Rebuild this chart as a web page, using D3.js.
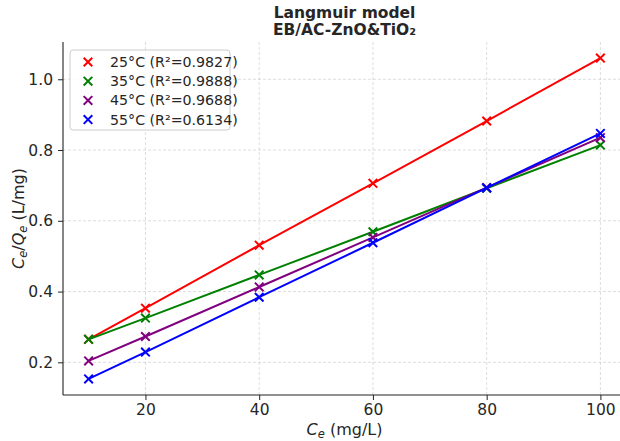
<!DOCTYPE html>
<html>
<head>
<meta charset="utf-8">
<script src="https://cdn.jsdelivr.net/npm/d3@7"></script>
<style>
  body { margin: 0; background: #fff; }
  text { font-family: "DejaVu Sans", sans-serif; }
</style>
</head>
<body>
<div id="chart"></div>
<script>
// data
var ce = [10, 20, 40, 60, 80, 100];
var t25 = [0.265, 0.353, 0.531, 0.706, 0.882, 1.060];
var t35 = [0.265, 0.325, 0.447, 0.569, 0.692, 0.814];
var t45 = [0.204, 0.273, 0.413, 0.553, 0.694, 0.835];
var t55 = [0.153, 0.229, 0.384, 0.538, 0.693, 0.847];
var labels = ["25°C (R²=0.9827)", "35°C (R²=0.9888)", "45°C (R²=0.9688)", "55°C (R²=0.6134)"];
var colors = ["#ff0000", "#008000", "#800080", "#0000ff"];
var xTicks = [20, 40, 60, 80, 100];
var yTicks = [0.2, 0.4, 0.6, 0.8, 1.0];

var series = [t25, t35, t45, t55].map(function(vals, i) {
  return { name: labels[i], color: colors[i], values: vals.map(function(v, j) { return { x: ce[j], y: v }; }) };
});

var svgWidth = 620;
var svgHeight = 441;
var margin = { top: 42, right: -6, bottom: 46, left: 63 };
var width = svgWidth - margin.left - margin.right;
var height = svgHeight - margin.top - margin.bottom;

var svg = d3.select("#chart")
  .append("svg")
  .attr("width", svgWidth)
  .attr("height", svgHeight)
  .style("overflow", "hidden");

var g = svg.append("g")
  .attr("transform", `translate(${margin.left}, ${margin.top})`);

// matplotlib style 5% margins
var xMin = d3.min(ce), xMax = d3.max(ce);
var xPad = (xMax - xMin) * 0.05;
var all = [].concat(t25, t35, t45, t55);
var yMin = d3.min(all), yMax = d3.max(all);
var yPad = (yMax - yMin) * 0.05;

var x = d3.scaleLinear().domain([xMin - xPad, xMax + xPad]).range([0, width]);
var y = d3.scaleLinear().domain([yMin - yPad, yMax + yPad]).range([height, 0]);

// grid
g.append("g").selectAll("line").data(xTicks).enter().append("line")
  .attr("x1", d => x(d)).attr("x2", d => x(d))
  .attr("y1", 0).attr("y2", height)
  .attr("stroke", "#b0b0b0").attr("stroke-opacity", 0.55)
  .attr("stroke-width", 0.8).attr("stroke-dasharray", "3,2");
g.append("g").selectAll("line").data(yTicks).enter().append("line")
  .attr("y1", d => y(d)).attr("y2", d => y(d))
  .attr("x1", 0).attr("x2", width)
  .attr("stroke", "#b0b0b0").attr("stroke-opacity", 0.55)
  .attr("stroke-width", 0.8).attr("stroke-dasharray", "3,2");

// axes
var xAxis = g.append("g")
  .attr("transform", "translate(0," + height + ")")
  .call(d3.axisBottom(x).tickValues(xTicks).tickSize(5).tickPadding(4).tickFormat(d3.format("d")));
var yAxis = g.append("g")
  .call(d3.axisLeft(y).tickValues(yTicks).tickSize(5).tickPadding(5).tickFormat(d3.format(".1f")));

[xAxis, yAxis].forEach(function(a) {
  a.select(".domain").attr("stroke", "#222").attr("stroke-width", 1.1);
  a.selectAll(".tick line").attr("stroke", "#222").attr("stroke-width", 1);
  a.selectAll(".tick text")
    .attr("font-family", "DejaVu Sans, sans-serif")
    .attr("font-size", 15.5)
    .attr("fill", "#262626");
});
// remove end caps of domain lines
xAxis.select(".domain").attr("d", "M0,0H" + width);
yAxis.select(".domain").attr("d", "M0,0V" + height);

// lines and x markers
var line = d3.line().x(d => x(d.x)).y(d => y(d.y));
var ms = 4.3;

series.forEach(function(s) {
  g.append("path")
    .datum(s.values)
    .attr("fill", "none")
    .attr("stroke", s.color)
    .attr("stroke-width", 2)
    .attr("d", line);

  g.selectAll(null)
    .data(s.values)
    .enter()
    .append("path")
    .attr("d", d => `M${x(d.x) - ms},${y(d.y) - ms}L${x(d.x) + ms},${y(d.y) + ms}M${x(d.x) - ms},${y(d.y) + ms}L${x(d.x) + ms},${y(d.y) - ms}`)
    .attr("stroke", s.color)
    .attr("stroke-width", 2)
    .attr("fill", "none");
});

// legend
var legend = g.append("g").attr("transform", "translate(7, 8)");
legend.append("rect")
  .attr("width", 160).attr("height", 80)
  .attr("rx", 3)
  .attr("fill", "#fff").attr("fill-opacity", 0.8)
  .attr("stroke", "#cccccc").attr("stroke-width", 1);

series.forEach(function(s, i) {
  var row = legend.append("g").attr("transform", `translate(0, ${12 + i * 19.2})`);
  row.append("path")
    .attr("d", `M${18 - ms},${-ms}L${18 + ms},${ms}M${18 - ms},${ms}L${18 + ms},${-ms}`)
    .attr("stroke", s.color).attr("stroke-width", 2);
  row.append("text")
    .attr("x", 40).attr("y", 0).attr("dy", "0.35em")
    .attr("font-size", 14.2)
    .attr("fill", "#262626")
    .text(s.name);
});

// title
var cx = margin.left + width / 2;
var title = svg.append("text")
  .attr("x", cx).attr("y", 18)
  .attr("text-anchor", "middle")
  .attr("font-size", 15.5)
  .attr("font-weight", "bold")
  .attr("fill", "#262626");
title.append("tspan").attr("x", cx).text("Langmuir model");
title.append("tspan").attr("x", cx).attr("dy", 17).text("EB/AC-ZnO&TiO₂");

// axis labels
var xl = svg.append("text")
  .attr("x", cx).attr("y", 435)
  .attr("text-anchor", "middle")
  .attr("font-size", 16)
  .attr("fill", "#262626");
xl.append("tspan").attr("font-style", "italic").text("C");
xl.append("tspan").attr("font-style", "italic").attr("font-size", 11.5).attr("dy", 3).text("e");
xl.append("tspan").attr("dy", -3).text(" (mg/L)");

var yl = svg.append("text")
  .attr("transform", `translate(24, ${margin.top + height / 2}) rotate(-90)`)
  .attr("text-anchor", "middle")
  .attr("font-size", 16)
  .attr("fill", "#262626");
yl.append("tspan").attr("font-style", "italic").text("C");
yl.append("tspan").attr("font-style", "italic").attr("font-size", 11.5).attr("dy", 3).text("e");
yl.append("tspan").attr("dy", -3).text("/");
yl.append("tspan").attr("font-style", "italic").text("Q");
yl.append("tspan").attr("font-style", "italic").attr("font-size", 11.5).attr("dy", 3).text("e");
yl.append("tspan").attr("dy", -3).text(" (L/mg)");
</script>
</body>
</html>
